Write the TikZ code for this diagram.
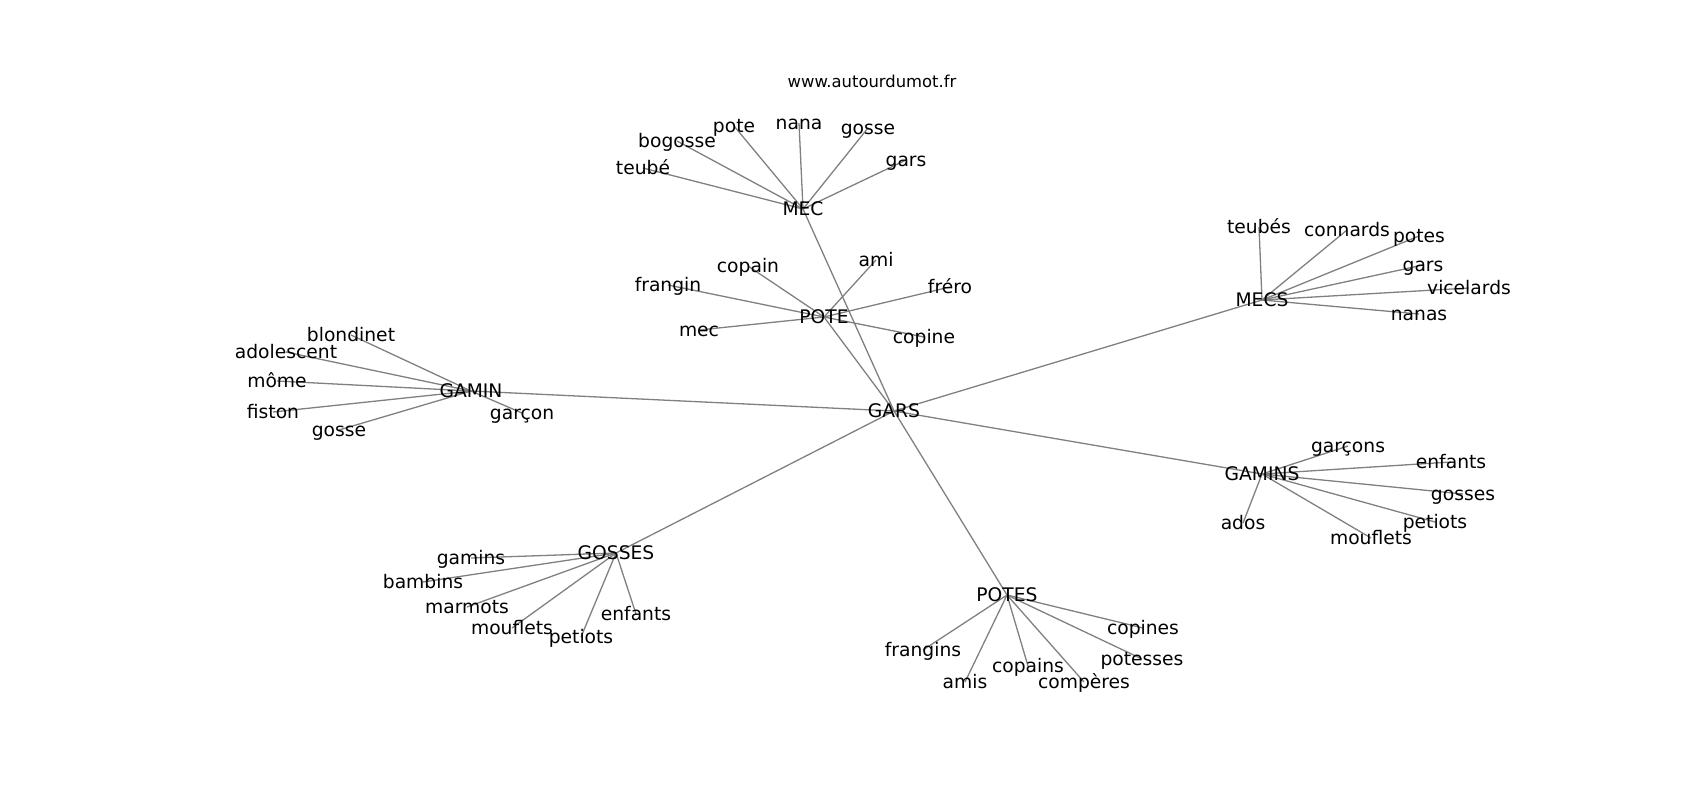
\documentclass[tikz,border=0pt]{standalone}
\usepackage{fontspec}
\setmainfont{DejaVu Sans}
\usetikzlibrary{backgrounds}

\begin{document}
\begin{tikzpicture}[x=1pt,y=-1pt,
  word/.style={inner sep=0pt,text height=13.6pt,text depth=0pt,
    font=\fontsize{18.7}{22}\selectfont},
  link/.style={draw=black!50,line width=1.3pt}]

  \useasboundingbox (0,0) rectangle (1700,800);

  \node[font=\fontsize{16.4}{20}\selectfont,inner sep=0pt,text height=12pt,text depth=0pt]
    (site) at (872,82) {www.autourdumot.fr};

  % hubs
  \node[word] (gars) at (894,411) {GARS};
  \node[word] (mec) at (803,209) {MEC};
  \node[word] (pote) at (824,317) {POTE};
  \node[word] (mecs) at (1262,300) {MECS};
  \node[word] (gamin) at (471,391) {GAMIN};
  \node[word] (gamins) at (1262,474) {GAMINS};
  \node[word] (gosses) at (616,553) {GOSSES};
  \node[word] (potes) at (1007,595) {POTES};

  % MEC
  \node[word] (mec-teube) at (643,168) {teubé};
  \node[word] (mec-bogosse) at (677,141) {bogosse};
  \node[word] (mec-pote) at (734,126) {pote};
  \node[word] (mec-nana) at (799,123) {nana};
  \node[word] (mec-gosse) at (868,128) {gosse};
  \node[word] (mec-gars) at (906,160) {gars};

  % POTE
  \node[word] (pote-copain) at (748,266) {copain};
  \node[word] (pote-frangin) at (668,285) {frangin};
  \node[word] (pote-mec) at (699,330) {mec};
  \node[word] (pote-ami) at (876,260) {ami};
  \node[word] (pote-frero) at (950,287) {fréro};
  \node[word] (pote-copine) at (924,337) {copine};

  % MECS
  \node[word] (mecs-teubes) at (1259,227) {teubés};
  \node[word] (mecs-connards) at (1347,230) {connards};
  \node[word] (mecs-potes) at (1419,236) {potes};
  \node[word] (mecs-gars) at (1423,265) {gars};
  \node[word] (mecs-vicelards) at (1469,288) {vicelards};
  \node[word] (mecs-nanas) at (1419,314) {nanas};

  % GAMINS
  \node[word] (gamins-garcons) at (1348,446) {garçons};
  \node[word] (gamins-enfants) at (1451,462) {enfants};
  \node[word] (gamins-gosses) at (1463,494) {gosses};
  \node[word] (gamins-petiots) at (1435,522) {petiots};
  \node[word] (gamins-mouflets) at (1371,538) {mouflets};
  \node[word] (gamins-ados) at (1243,523) {ados};

  % GAMIN
  \node[word] (gamin-blondinet) at (351,335) {blondinet};
  \node[word] (gamin-adolescent) at (286,352) {adolescent};
  \node[word] (gamin-mome) at (277,381) {môme};
  \node[word] (gamin-fiston) at (273,412) {fiston};
  \node[word] (gamin-gosse) at (339,430) {gosse};
  \node[word] (gamin-garcon) at (522,413) {garçon};

  % GOSSES
  \node[word] (gosses-gamins) at (471,558) {gamins};
  \node[word] (gosses-bambins) at (423,582) {bambins};
  \node[word] (gosses-marmots) at (467,607) {marmots};
  \node[word] (gosses-mouflets) at (512,628) {mouflets};
  \node[word] (gosses-petiots) at (581,637) {petiots};
  \node[word] (gosses-enfants) at (636,614) {enfants};

  % POTES
  \node[word] (potes-copines) at (1143,628) {copines};
  \node[word] (potes-frangins) at (923,650) {frangins};
  \node[word] (potes-potesses) at (1142,659) {potesses};
  \node[word] (potes-copains) at (1028,666) {copains};
  \node[word] (potes-amis) at (965,682) {amis};
  \node[word] (potes-comperes) at (1084,682) {compères};

  \begin{pgfonlayer}{background}
    \foreach \h in {mec,pote,mecs,gamin,gamins,gosses,potes}
      \draw[link] (gars.center) -- (\h.center);
    \foreach \w in {teube,bogosse,pote,nana,gosse,gars}
      \draw[link] (mec.center) -- (mec-\w.center);
    \foreach \w in {copain,frangin,mec,ami,frero,copine}
      \draw[link] (pote.center) -- (pote-\w.center);
    \foreach \w in {teubes,connards,potes,gars,vicelards,nanas}
      \draw[link] (mecs.center) -- (mecs-\w.center);
    \foreach \w in {garcons,enfants,gosses,petiots,mouflets,ados}
      \draw[link] (gamins.center) -- (gamins-\w.center);
    \foreach \w in {blondinet,adolescent,mome,fiston,gosse,garcon}
      \draw[link] (gamin.center) -- (gamin-\w.center);
    \foreach \w in {gamins,bambins,marmots,mouflets,petiots,enfants}
      \draw[link] (gosses.center) -- (gosses-\w.center);
    \foreach \w in {copines,frangins,potesses,copains,amis,comperes}
      \draw[link] (potes.center) -- (potes-\w.center);
  \end{pgfonlayer}
\end{tikzpicture}
\end{document}
